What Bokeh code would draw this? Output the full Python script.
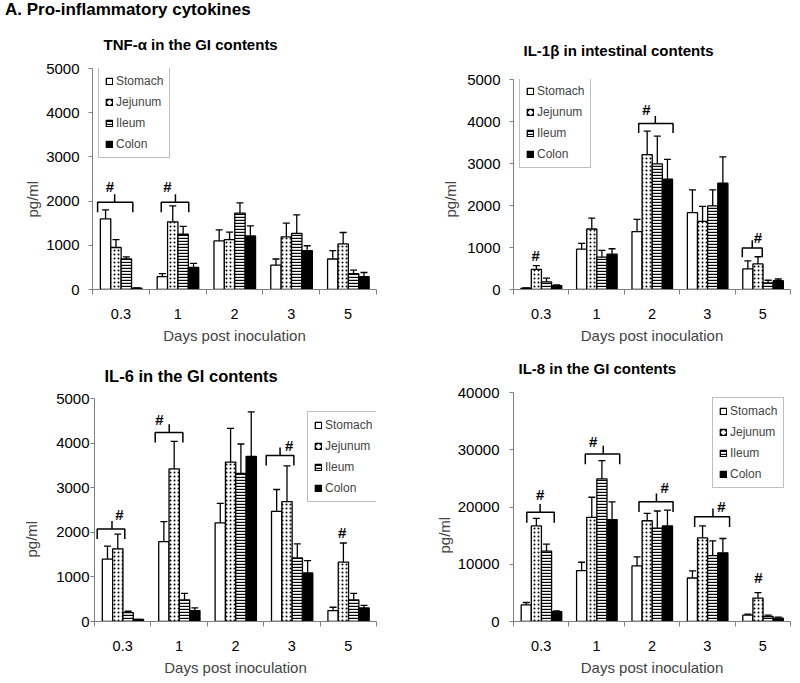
import numpy as np
from bokeh.plotting import figure
from bokeh.models import (ColumnDataSource, FixedTicker, Whisker, TeeHead, Legend,
                          LegendItem, Title, Range1d, Div)
from bokeh.layouts import column, row
from bokeh.core.properties import value
from bokeh.embed import file_html
from bokeh.resources import INLINE

days = ["0.3", "1", "2", "3", "5"]
organs = ["Stomach", "Jejunum", "Ileum", "Colon"]

# TNF-alpha (pg/ml): means and SEM per organ, per day
tnf_mean = {"Stomach": [1600, 290, 1100, 550, 690],
            "Jejunum": [950, 1530, 1130, 1190, 1030],
            "Ileum":   [690, 1250, 1730, 1270, 360],
            "Colon":   [30, 500, 1210, 880, 290]}
tnf_sem = {"Stomach": [200, 70, 250, 140, 190],
           "Jejunum": [180, 360, 170, 310, 260],
           "Ileum":   [50, 180, 230, 420, 80],
           "Colon":   [5, 90, 230, 110, 95]}

# IL-1beta
il1_mean = {"Stomach": [30, 960, 1380, 1830, 490],
            "Jejunum": [480, 1440, 3210, 1620, 610],
            "Ileum":   [180, 770, 2990, 1990, 160],
            "Colon":   [90, 840, 2630, 2530, 210]}
il1_sem = {"Stomach": [10, 140, 290, 540, 190],
           "Jejunum": [90, 260, 560, 360, 170],
           "Ileum":   [90, 160, 660, 380, 60],
           "Colon":   [20, 130, 470, 630, 40]}

# IL-6
il6_mean = {"Stomach": [1400, 1790, 2210, 2470, 245],
            "Jejunum": [1630, 3420, 3575, 2690, 1330],
            "Ileum":   [200, 485, 3320, 1425, 485],
            "Colon":   [45, 245, 3700, 1090, 305]}
il6_sem = {"Stomach": [290, 450, 440, 490, 75],
           "Jejunum": [330, 620, 755, 800, 430],
           "Ileum":   [30, 145, 660, 315, 145],
           "Colon":   [0, 60, 1000, 275, 55]}

# IL-8
il8_mean = {"Stomach": [2900, 8900, 9700, 7600, 1100],
            "Jejunum": [16700, 18200, 17600, 14600, 4100],
            "Ileum":   [12300, 24900, 16300, 11500, 870],
            "Colon":   [1700, 17800, 16700, 12000, 580]}
il8_sem = {"Stomach": [420, 1450, 1600, 1250, 180],
           "Jejunum": [1300, 3500, 1300, 2100, 950],
           "Ileum":   [1200, 3200, 3000, 2600, 230],
           "Colon":   [160, 3100, 2750, 2500, 180]}

# significance brackets: (x start, x end, x peak, y) and "#" marks (x, y)
tnf_brackets = [(0.09, 0.71, 0.39, 1975), (1.21, 1.695, 1.46, 1975)]
tnf_hash = [(0.305, 2330), (1.32, 2330)]
il1_brackets = [(2.26, 2.88, 2.56, 3950), (4.13, 4.49, 4.31, 990)]
il1_hash = [(0.40, 820), (2.40, 4280), (4.41, 1245)]
il6_brackets = [(0.048, 0.537, 0.31, 2075), (1.076, 1.567, 1.325, 4240),
                (3.044, 3.535, 3.29, 3720)]
il6_hash = [(0.44, 2410), (1.15, 4520), (3.45, 3950), (4.39, 2000)]
il8_brackets = [(0.24, 0.735, 0.48, 19070), (1.296, 1.917, 1.62, 29250),
                (2.265, 2.88, 2.58, 20930), (3.27, 3.90, 3.60, 18300)]
il8_hash = [(0.48, 22150), (1.44, 31450), (2.73, 23400), (3.755, 20100), (4.42, 7700)]

FONT = "Liberation Sans"
OFFSETS = [-0.27, -0.087, 0.096, 0.279]
BAR_W = 0.183
STYLES = {
    "Stomach": dict(fill_color="white"),
    "Jejunum": dict(fill_color="white", hatch_pattern="dot", hatch_color="black",
                    hatch_scale=4, hatch_weight=0.7),
    "Ileum": dict(fill_color="white", hatch_pattern="horizontal_line",
                  hatch_color="black", hatch_scale=3, hatch_weight=1.4),
    "Colon": dict(fill_color="black"),
}


def panel(title, means, sems, ymax, ystep, brackets, hashes, legend_xy,
          w, h, bl, br, bt, bb, t_off, t_stand, t_size,
          yl_off, yl_stand, ytick_stand):
    p = figure(width=w, height=h, x_range=Range1d(0, 5), y_range=Range1d(0, ymax),
               output_backend="svg", toolbar_location=None,
               min_border_left=bl, min_border_right=br,
               min_border_top=bt, min_border_bottom=bb)
    p.frame_align = False
    p.outline_line_color = None
    p.xgrid.visible = False
    p.ygrid.visible = False
    p.background_fill_color = "white"

    p.title.text = title
    p.title.align = "left"
    p.title.vertical_align = "top"
    p.title.offset = t_off
    p.title.standoff = t_stand
    p.title.text_font = FONT
    p.title.text_font_size = t_size
    p.title.text_font_style = "bold"
    p.title.text_color = "black"

    # x axis: categories, ticks between categories
    xa = p.xaxis[0]
    xa.ticker = FixedTicker(ticks=[i + 0.5 for i in range(5)],
                            minor_ticks=list(range(6)))
    xa.major_label_overrides = {i + 0.5: d for i, d in enumerate(days)}
    xa.major_tick_line_color = None
    xa.major_tick_out = 0
    xa.major_tick_in = 0
    xa.minor_tick_out = 5
    xa.minor_tick_in = 0
    xa.minor_tick_line_color = "#808080"
    xa.axis_line_color = "#808080"
    xa.major_label_standoff = 14
    xa.major_label_text_font = FONT
    xa.major_label_text_font_size = "14.5px"
    xa.major_label_text_color = "black"
    xa.axis_label = "Days post inoculation"
    xa.axis_label_text_font = FONT
    xa.axis_label_text_font_size = "15px"
    xa.axis_label_text_font_style = "normal"
    xa.axis_label_standoff = 5

    ya = p.yaxis[0]
    ya.ticker = FixedTicker(ticks=list(range(0, ymax + 1, ystep)))
    ya.minor_tick_line_color = None
    ya.major_tick_out = 4
    ya.major_tick_in = 0
    ya.major_tick_line_color = "#808080"
    ya.axis_line_color = "#808080"
    ya.major_label_standoff = ytick_stand
    ya.major_label_text_font = FONT
    ya.major_label_text_font_size = "15px"
    ya.major_label_text_color = "black"

    p.add_layout(Title(text="pg/ml", align="left", vertical_align="bottom",
                       offset=yl_off, standoff=yl_stand,
                       text_font=FONT, text_font_size="15px", text_font_style="normal"),
                 "left")

    items = []
    for org, off in zip(organs, OFFSETS):
        m = np.array(means[org], dtype=float)
        s = np.array(sems[org], dtype=float)
        src = ColumnDataSource(dict(x=np.arange(5) + 0.5 + off, top=m, upper=m + s))
        r = p.vbar(x="x", top="top", width=BAR_W, source=src, line_color="black",
                   line_width=1.3, **STYLES[org])
        p.add_layout(Whisker(source=src, base="x", lower="top", upper="upper",
                             lower_head=None,
                             upper_head=TeeHead(size=7, line_width=1.3, line_color="black"),
                             line_width=1.3, line_color="black"))
        items.append(LegendItem(label=org, renderers=[r]))

    dd = 0.045 * ymax
    du = 0.036 * ymax
    xs, ys = [], []
    for x0, x1, xm, y in brackets:
        xs.append([x0, x0, x1, x1])
        ys.append([y - dd, y, y, y - dd])
        xs.append([xm, xm])
        ys.append([y, y + du])
    p.multi_line(xs, ys, line_color="black", line_width=1.5)
    p.text(x=[hh[0] for hh in hashes], y=[hh[1] for hh in hashes], text=["#"] * len(hashes),
           text_font=value(FONT), text_font_size="15px", text_font_style="bold",
           text_align="center", text_baseline="middle", text_color="black")

    leg = Legend(items=items, location=legend_xy, orientation="vertical")
    leg.border_line_color = "#808080"
    leg.border_line_width = 1
    leg.background_fill_color = "white"
    leg.background_fill_alpha = 1
    leg.label_text_font = FONT
    leg.label_text_font_size = "12px"
    leg.glyph_width = 8
    leg.glyph_height = 8
    leg.label_height = 13
    leg.label_standoff = 3
    leg.spacing = 7
    leg.padding = 6
    leg.margin = 0
    p.add_layout(leg)
    return p


p1 = panel("TNF-\u03b1 in the GI contents", tnf_mean, tnf_sem, 5000, 1000,
           tnf_brackets, tnf_hash, (6, 131),
           392, 326, 92, 16, 48, 57, 11, 27, "15px", 72, 6, 9)
p2 = panel("IL-1\u03b2 in intestinal contents", il1_mean, il1_sem, 5000, 1000,
           il1_brackets, il1_hash, (6, 121),
           408, 326, 121, 10, 59, 57, 10, 37, "15px", 72, 12, 9)
p3 = panel("IL-6 in the GI contents", il6_mean, il6_sem, 5000, 1000,
           il6_brackets, il6_hash, (213, 119),
           392, 332, 94, 16, 52, 57, 10, 23, "16.5px", 64, 27, 1)
p4 = panel("IL-8 in the GI contents", il8_mean, il8_sem, 40000, 10000,
           il8_brackets, il8_hash, (199, 133),
           408, 332, 121, 10, 46, 57, 5, 27, "15px", 68, 3, 10)

header = Div(text="A. Pro-inflammatory cytokines", width=395, height=20,
             margin=(0, 0, 0, 5),
             styles={"font-family": "Liberation Sans, Arial, sans-serif",
                     "font-size": "17px", "font-weight": "bold", "color": "black",
                     "line-height": "20px"})

layout = column(header, row(p1, p2), row(p3, p4))
open("out.html", "w").write(file_html(layout, INLINE))
